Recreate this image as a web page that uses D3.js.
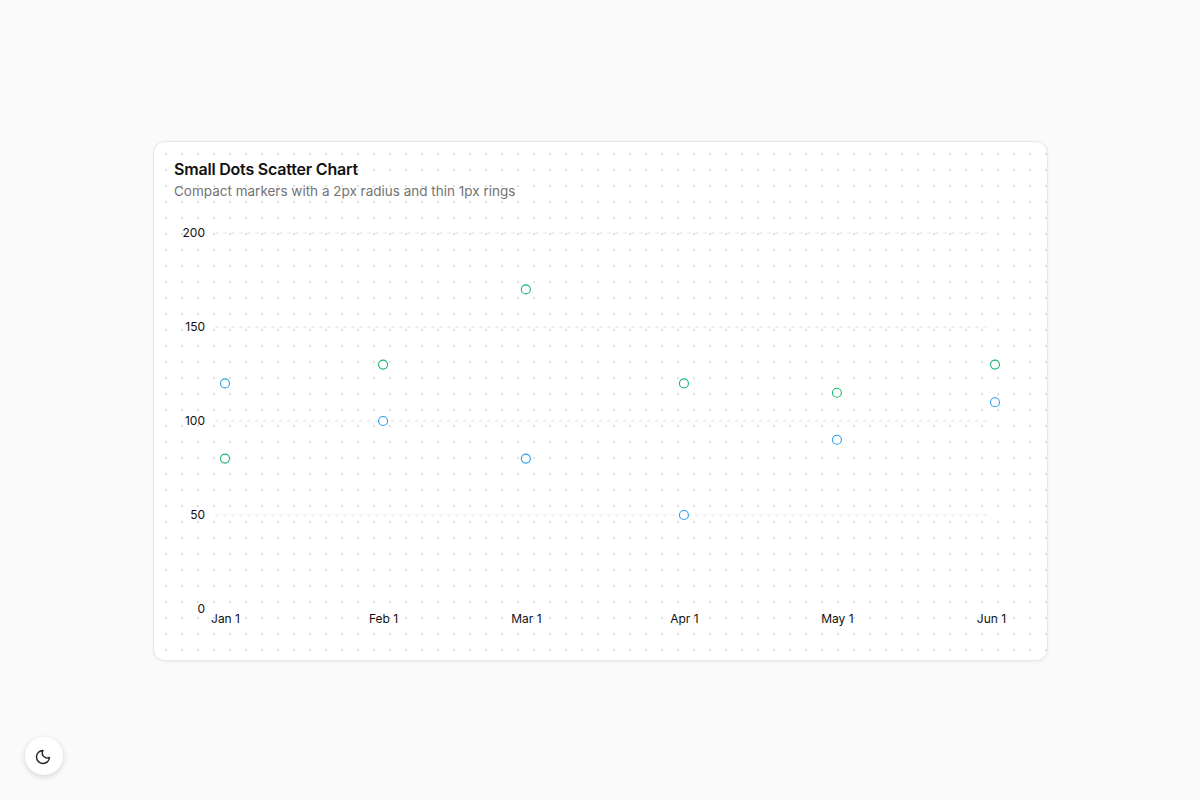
<!DOCTYPE html>
<html>
<head>
<meta charset="utf-8">
<script src="https://cdn.jsdelivr.net/npm/d3@7"></script>
<style>
  body { margin: 0; background: #fafafa; font-family: Inter, "Noto Sans", sans-serif; }
  .card { position: absolute; left: 153px; top: 141px; width: 893px; height: 518px;
    background-color: #fff; border: 1px solid #e8e8e8; border-radius: 12px;
    box-shadow: 0 1px 3px rgba(0,0,0,0.06);
    background-image: radial-gradient(#e0e0e0 0.9px, transparent 1.1px);
    background-size: 16px 16px; background-position: 4px 4px; }
  .title { position: absolute; left: 20px; top: 17px; font-size: 16px; font-weight: 600; color: #111; letter-spacing: -0.2px; }
  .sub { position: absolute; left: 20px; top: 41px; font-size: 13.5px; color: #737373; }
  svg { position: absolute; left: 0; top: 0; }
  .btn { position: absolute; left: 25px; top: 737px; width: 38px; height: 38px; border-radius: 50%;
    background: #fff; box-shadow: 0 2px 6px rgba(0,0,0,0.15); }
</style>
</head>
<body>
<div class="card">
  <div class="title">Small Dots Scatter Chart</div>
  <div class="sub">Compact markers with a 2px radius and thin 1px rings</div>
</div>
<div class="btn"><svg width="38" height="38" viewBox="0 0 38 38"><path d="M24.5 20.5A6.5 6.5 0 1 1 18 13.5a5 5 0 0 0 6.5 7z" fill="none" stroke="#222" stroke-width="1.4" stroke-linejoin="round"/></svg></div>
<svg id="chart" width="1200" height="800"></svg>
<script>
var months = ["2023-01-01", "2023-02-01", "2023-03-01", "2023-04-01", "2023-05-01", "2023-06-01"];
var blueValues = [120, 100, 80, 50, 90, 110];
var greenValues = [80, 130, 170, 120, 115, 130];
var yTicks = [0, 50, 100, 150, 200];

(function () {
    var parse = d3.utcParse("%Y-%m-%d");
    var dates = months.map(parse);
    var svg = d3.select("#chart");

    var x = d3.scaleUtc().domain([dates[0], dates[dates.length - 1]]).range([225, 995]);
    var y = d3.scaleLinear().domain([0, 200]).range([609, 233]);

    // grid
    svg.append("g").selectAll("line").data(yTicks.slice(1)).enter().append("line")
        .attr("x1", 215).attr("x2", 990)
        .attr("y1", function (d) { return y(d); }).attr("y2", function (d) { return y(d); })
        .attr("stroke", "#e6e6e6").attr("stroke-dasharray", "4 4");

    var yAxis = svg.append("g").attr("transform", "translate(205,0)")
        .call(d3.axisLeft(y).tickValues(yTicks).tickSize(0).tickPadding(0));
    yAxis.select(".domain").remove();
    yAxis.selectAll("text").attr("font-family", "Inter, sans-serif").attr("font-size", 12).attr("fill", "#111");

    var xAxis = svg.append("g").attr("transform", "translate(0,614)")
        .call(d3.axisBottom(x).tickValues(dates).tickSize(0).tickPadding(0)
            .tickFormat(d3.utcFormat("%b %-d")));
    xAxis.select(".domain").remove();
    xAxis.selectAll("text").attr("font-family", "Inter, sans-serif").attr("font-size", 12).attr("fill", "#111");
    xAxis.selectAll(".tick:last-child text").attr("dx", -4);

    function dots(values, color) {
        svg.append("g").selectAll("circle").data(values).enter().append("circle")
            .attr("cx", function (d, i) { return x(dates[i]); })
            .attr("cy", function (d) { return y(d); })
            .attr("r", 4.5).attr("fill", "#fff")
            .attr("stroke", color).attr("stroke-width", 1.1);
    }
    dots(blueValues, "#2a9fec");
    dots(greenValues, "#16b86e");
}());
</script>
</body>
</html>
